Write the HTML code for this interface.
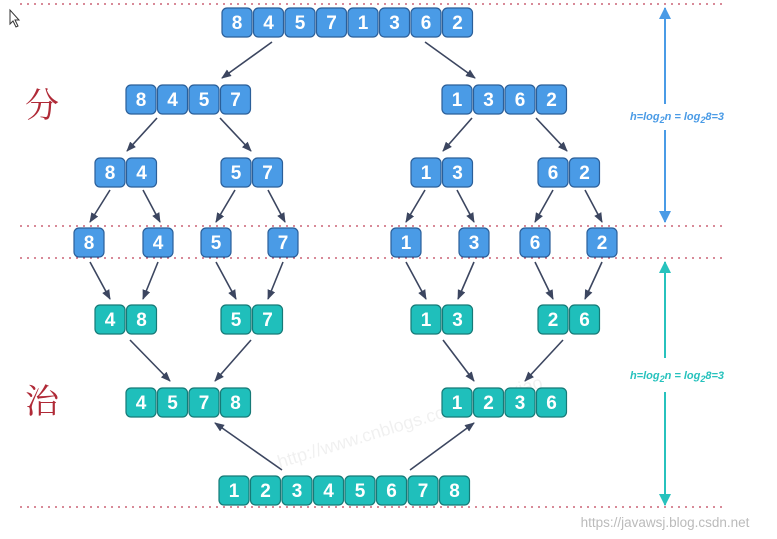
<!DOCTYPE html>
<html><head><meta charset="utf-8"><style>
html,body{margin:0;padding:0;background:#fff;width:777px;height:539px;overflow:hidden}
svg{display:block}
.b{fill:#4a9be6;stroke:#2b5f99;stroke-width:1.2}
.t{fill:#1fbfbb;stroke:#167a77;stroke-width:1.2}
.n{font-family:"Liberation Sans",sans-serif;font-weight:bold;font-size:19px;fill:#fff;text-anchor:middle}
.a{stroke:#3c4660;stroke-width:1.6;fill:none;marker-end:url(#ah)}
.d{stroke:#c0455a;stroke-width:1.3;stroke-dasharray:2,5}
</style></head><body>
<svg width="777" height="539" viewBox="0 0 777 539">
<defs>
<marker id="ah" markerWidth="10" markerHeight="8" refX="9" refY="4" orient="auto" markerUnits="userSpaceOnUse"><path d="M0,0 L10,4 L0,8 z" fill="#3c4660"/></marker>
<marker id="bh" markerWidth="12" markerHeight="12" refX="11" refY="6" orient="auto" markerUnits="userSpaceOnUse"><path d="M0,0 L12,6 L0,12 z" fill="#4a9be6"/></marker>
<marker id="th" markerWidth="12" markerHeight="12" refX="11" refY="6" orient="auto" markerUnits="userSpaceOnUse"><path d="M0,0 L12,6 L0,12 z" fill="#27c2bd"/></marker>
</defs>
<line class="d" x1="20" y1="4" x2="725" y2="4"/>
<line class="d" x1="20" y1="226" x2="725" y2="226"/>
<line class="d" x1="20" y1="258" x2="725" y2="258"/>
<line class="d" x1="20" y1="507" x2="725" y2="507"/>
<path d="M10,10 L10,24 L13,21 L16,27 L18,26 L15,20 L19,20 Z" fill="#fff" stroke="#333" stroke-width="1"/>
<text x="42" y="117" font-family="'Noto Serif CJK SC',serif" font-size="34" fill="#b02a37" text-anchor="middle">分</text>
<text x="42" y="413" font-family="'Noto Serif CJK SC',serif" font-size="34" fill="#b02a37" text-anchor="middle">治</text>
<line x1="665" y1="10" x2="665" y2="104" stroke="#4a9be6" stroke-width="2"/>
<line x1="665" y1="130" x2="665" y2="222" stroke="#4a9be6" stroke-width="2" marker-end="url(#bh)"/>
<line x1="665" y1="10" x2="665" y2="8" stroke="#4a9be6" stroke-width="2" marker-end="url(#bh)"/>
<text x="677" y="120" font-family="Liberation Sans,sans-serif" font-size="11" font-weight="bold" font-style="italic" fill="#4a9be6" text-anchor="middle">h=log<tspan font-size="9" dy="3">2</tspan><tspan dy="-3">n = log</tspan><tspan font-size="9" dy="3">2</tspan><tspan dy="-3">8=3</tspan></text>
<line x1="665" y1="358" x2="665" y2="262" stroke="#27c2bd" stroke-width="2" marker-end="url(#th)"/>
<line x1="665" y1="392" x2="665" y2="505" stroke="#27c2bd" stroke-width="2" marker-end="url(#th)"/>
<text x="677" y="379" font-family="Liberation Sans,sans-serif" font-size="11" font-weight="bold" font-style="italic" fill="#27c2bd" text-anchor="middle">h=log<tspan font-size="9" dy="3">2</tspan><tspan dy="-3">n = log</tspan><tspan font-size="9" dy="3">2</tspan><tspan dy="-3">8=3</tspan></text>
<text x="265" y="430" font-family="Liberation Sans,sans-serif" font-size="18" fill="#000" fill-opacity="0.06" transform="rotate(-17 400 400)">http://www.cnblogs.com/chengxiao</text>
<text x="665" y="527" font-family="Liberation Sans,sans-serif" font-size="13.5" fill="#bbb" text-anchor="middle">https://javawsj.blog.csdn.net</text>
<rect class="b" x="222" y="8" width="30" height="29" rx="5"/><text class="n" x="237" y="29">8</text>
<rect class="b" x="253.5" y="8" width="30" height="29" rx="5"/><text class="n" x="268.5" y="29">4</text>
<rect class="b" x="285" y="8" width="30" height="29" rx="5"/><text class="n" x="300" y="29">5</text>
<rect class="b" x="316.5" y="8" width="30" height="29" rx="5"/><text class="n" x="331.5" y="29">7</text>
<rect class="b" x="348" y="8" width="30" height="29" rx="5"/><text class="n" x="363" y="29">1</text>
<rect class="b" x="379.5" y="8" width="30" height="29" rx="5"/><text class="n" x="394.5" y="29">3</text>
<rect class="b" x="411" y="8" width="30" height="29" rx="5"/><text class="n" x="426" y="29">6</text>
<rect class="b" x="442.5" y="8" width="30" height="29" rx="5"/><text class="n" x="457.5" y="29">2</text>
<rect class="b" x="126" y="85" width="30" height="29" rx="5"/><text class="n" x="141" y="106">8</text>
<rect class="b" x="157.5" y="85" width="30" height="29" rx="5"/><text class="n" x="172.5" y="106">4</text>
<rect class="b" x="189" y="85" width="30" height="29" rx="5"/><text class="n" x="204" y="106">5</text>
<rect class="b" x="220.5" y="85" width="30" height="29" rx="5"/><text class="n" x="235.5" y="106">7</text>
<rect class="b" x="442" y="85" width="30" height="29" rx="5"/><text class="n" x="457" y="106">1</text>
<rect class="b" x="473.5" y="85" width="30" height="29" rx="5"/><text class="n" x="488.5" y="106">3</text>
<rect class="b" x="505" y="85" width="30" height="29" rx="5"/><text class="n" x="520" y="106">6</text>
<rect class="b" x="536.5" y="85" width="30" height="29" rx="5"/><text class="n" x="551.5" y="106">2</text>
<rect class="b" x="95" y="158" width="30" height="29" rx="5"/><text class="n" x="110" y="179">8</text>
<rect class="b" x="126.5" y="158" width="30" height="29" rx="5"/><text class="n" x="141.5" y="179">4</text>
<rect class="b" x="221" y="158" width="30" height="29" rx="5"/><text class="n" x="236" y="179">5</text>
<rect class="b" x="252.5" y="158" width="30" height="29" rx="5"/><text class="n" x="267.5" y="179">7</text>
<rect class="b" x="411" y="158" width="30" height="29" rx="5"/><text class="n" x="426" y="179">1</text>
<rect class="b" x="442.5" y="158" width="30" height="29" rx="5"/><text class="n" x="457.5" y="179">3</text>
<rect class="b" x="538" y="158" width="30" height="29" rx="5"/><text class="n" x="553" y="179">6</text>
<rect class="b" x="569.5" y="158" width="30" height="29" rx="5"/><text class="n" x="584.5" y="179">2</text>
<rect class="b" x="74" y="228" width="30" height="29" rx="5"/><text class="n" x="89" y="249">8</text>
<rect class="b" x="143" y="228" width="30" height="29" rx="5"/><text class="n" x="158" y="249">4</text>
<rect class="b" x="201" y="228" width="30" height="29" rx="5"/><text class="n" x="216" y="249">5</text>
<rect class="b" x="268" y="228" width="30" height="29" rx="5"/><text class="n" x="283" y="249">7</text>
<rect class="b" x="391" y="228" width="30" height="29" rx="5"/><text class="n" x="406" y="249">1</text>
<rect class="b" x="459" y="228" width="30" height="29" rx="5"/><text class="n" x="474" y="249">3</text>
<rect class="b" x="520" y="228" width="30" height="29" rx="5"/><text class="n" x="535" y="249">6</text>
<rect class="b" x="587" y="228" width="30" height="29" rx="5"/><text class="n" x="602" y="249">2</text>
<rect class="t" x="95" y="305" width="30" height="29" rx="5"/><text class="n" x="110" y="326">4</text>
<rect class="t" x="126.5" y="305" width="30" height="29" rx="5"/><text class="n" x="141.5" y="326">8</text>
<rect class="t" x="221" y="305" width="30" height="29" rx="5"/><text class="n" x="236" y="326">5</text>
<rect class="t" x="252.5" y="305" width="30" height="29" rx="5"/><text class="n" x="267.5" y="326">7</text>
<rect class="t" x="411" y="305" width="30" height="29" rx="5"/><text class="n" x="426" y="326">1</text>
<rect class="t" x="442.5" y="305" width="30" height="29" rx="5"/><text class="n" x="457.5" y="326">3</text>
<rect class="t" x="538" y="305" width="30" height="29" rx="5"/><text class="n" x="553" y="326">2</text>
<rect class="t" x="569.5" y="305" width="30" height="29" rx="5"/><text class="n" x="584.5" y="326">6</text>
<rect class="t" x="126" y="388" width="30" height="29" rx="5"/><text class="n" x="141" y="409">4</text>
<rect class="t" x="157.5" y="388" width="30" height="29" rx="5"/><text class="n" x="172.5" y="409">5</text>
<rect class="t" x="189" y="388" width="30" height="29" rx="5"/><text class="n" x="204" y="409">7</text>
<rect class="t" x="220.5" y="388" width="30" height="29" rx="5"/><text class="n" x="235.5" y="409">8</text>
<rect class="t" x="442" y="388" width="30" height="29" rx="5"/><text class="n" x="457" y="409">1</text>
<rect class="t" x="473.5" y="388" width="30" height="29" rx="5"/><text class="n" x="488.5" y="409">2</text>
<rect class="t" x="505" y="388" width="30" height="29" rx="5"/><text class="n" x="520" y="409">3</text>
<rect class="t" x="536.5" y="388" width="30" height="29" rx="5"/><text class="n" x="551.5" y="409">6</text>
<rect class="t" x="219" y="476" width="30" height="29" rx="5"/><text class="n" x="234" y="497">1</text>
<rect class="t" x="250.5" y="476" width="30" height="29" rx="5"/><text class="n" x="265.5" y="497">2</text>
<rect class="t" x="282" y="476" width="30" height="29" rx="5"/><text class="n" x="297" y="497">3</text>
<rect class="t" x="313.5" y="476" width="30" height="29" rx="5"/><text class="n" x="328.5" y="497">4</text>
<rect class="t" x="345" y="476" width="30" height="29" rx="5"/><text class="n" x="360" y="497">5</text>
<rect class="t" x="376.5" y="476" width="30" height="29" rx="5"/><text class="n" x="391.5" y="497">6</text>
<rect class="t" x="408" y="476" width="30" height="29" rx="5"/><text class="n" x="423" y="497">7</text>
<rect class="t" x="439.5" y="476" width="30" height="29" rx="5"/><text class="n" x="454.5" y="497">8</text>
<line class="a" x1="272" y1="42" x2="222" y2="78"/>
<line class="a" x1="425" y1="42" x2="475" y2="78"/>
<line class="a" x1="157" y1="118" x2="127" y2="151"/>
<line class="a" x1="220" y1="118" x2="251" y2="151"/>
<line class="a" x1="472" y1="118" x2="443" y2="151"/>
<line class="a" x1="536" y1="118" x2="567" y2="151"/>
<line class="a" x1="110" y1="190" x2="90" y2="222"/>
<line class="a" x1="143" y1="190" x2="160" y2="222"/>
<line class="a" x1="235" y1="190" x2="216" y2="222"/>
<line class="a" x1="268" y1="190" x2="285" y2="222"/>
<line class="a" x1="425" y1="190" x2="406" y2="222"/>
<line class="a" x1="457" y1="190" x2="474" y2="222"/>
<line class="a" x1="553" y1="190" x2="535" y2="222"/>
<line class="a" x1="585" y1="190" x2="602" y2="222"/>
<line class="a" x1="90" y1="262" x2="110" y2="299"/>
<line class="a" x1="158" y1="262" x2="143" y2="299"/>
<line class="a" x1="216" y1="262" x2="236" y2="299"/>
<line class="a" x1="283" y1="262" x2="268" y2="299"/>
<line class="a" x1="406" y1="262" x2="426" y2="299"/>
<line class="a" x1="474" y1="262" x2="458" y2="299"/>
<line class="a" x1="535" y1="262" x2="553" y2="299"/>
<line class="a" x1="602" y1="262" x2="585" y2="299"/>
<line class="a" x1="130" y1="340" x2="170" y2="381"/>
<line class="a" x1="251" y1="340" x2="215" y2="381"/>
<line class="a" x1="443" y1="340" x2="474" y2="381"/>
<line class="a" x1="563" y1="340" x2="525" y2="381"/>
<line class="a" x1="282" y1="470" x2="215" y2="423"/>
<line class="a" x1="410" y1="470" x2="474" y2="423"/>
</svg>
</body></html>
